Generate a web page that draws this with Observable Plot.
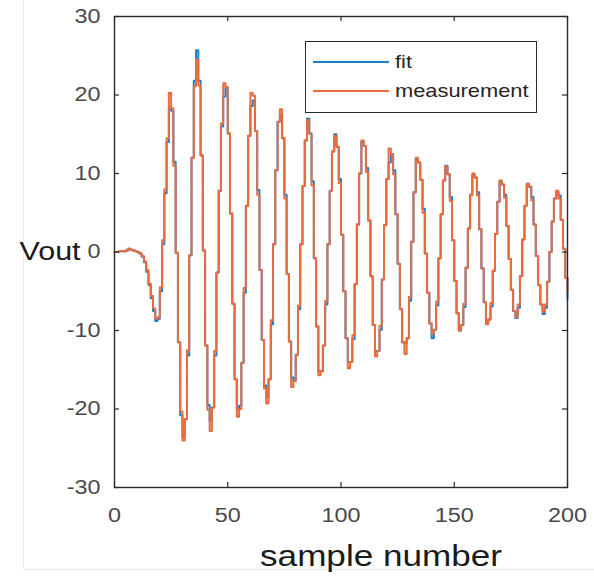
<!DOCTYPE html>
<html>
<head>
<meta charset="utf-8">
<script src="https://cdn.jsdelivr.net/npm/d3@7"></script>
<script src="https://cdn.jsdelivr.net/npm/@observablehq/plot@0.6"></script>
<style>
  html, body { margin: 0; padding: 0; background: #fff; }
  #wrap { position: relative; width: 594px; height: 580px; overflow: hidden; font-family: 'Liberation Sans', Arial, sans-serif; }
  #edge { position: absolute; left: 23px; top: 0; width: 580px; height: 569px; border-left: 1px solid #ececec; border-bottom: 1px solid #ececec; }
  #legend { position: absolute; left: 305px; top: 41px; width: 230px; height: 70px; border: 1.5px solid #2a2a2a; background: #fff; }
  .lg-line { position: absolute; left: 7px; width: 76px; height: 2px; }
  .lg-text { position: absolute; left: 89px; font-size: 19px; line-height: 22px; color: #262626; transform: scaleX(1.15); transform-origin: left center; white-space: nowrap; }
</style>
</head>
<body>
<div id="wrap"><div id="edge"></div></div>
<script>
// ---- data ----
const xTicks = [0, 50, 100, 150, 200];
const yTicks = [-30, -20, -10, 0, 10, 20, 30];
const seriesNames = ["fit", "measurement"];
const seriesColors = ["#1f7fcb", "#ea6c3e"];
const xLabel = "sample number";
const yLabel = "Vout";

// measured Vout, one value per sample 0..200
const measurement = [
  0.0, 0.0, 0.1, 0.1, 0.1, 0.2, 0.4, 0.3, 0.2, 0.1,
  0.0, -0.2, -0.5, -1.2, -2.3, -4.0, -5.6, -7.2, -8.5, -8.3,
  -4.5, 1.5, 8.0, 14.5, 20.3, 18.3, 11.0, -0.1, -11.5, -20.3,
  -24.0, -21.3, -12.5, -0.4, 12.0, 21.1, 24.5, 21.2, 12.3, 0.2,
  -11.9, -20.1, -22.8, -19.8, -12.6, -2.6, 7.8, 16.4, 21.5, 21.0,
  15.1, 4.9, -6.6, -16.2, -21.0, -20.0, -14.1, -4.6, 5.9, 14.8,
  20.3, 19.9, 15.4, 7.3, -2.3, -11.2, -17.4, -19.3, -16.2, -8.7,
  1.0, 10.4, 16.6, 18.2, 14.5, 6.8, -2.8, -11.4, -17.2, -16.4,
  -13.1, -6.8, 1.0, 8.4, 14.2, 16.8, 15.1, 8.5, -0.8, -9.5,
  -15.7, -15.2, -11.9, -6.2, 1.0, 7.8, 12.8, 14.8, 13.4, 8.8,
  2.2, -5.0, -11.0, -14.8, -14.0, -10.6, -4.1, 3.5, 10.0, 14.2,
  13.5, 10.2, 4.0, -3.1, -9.3, -13.3, -12.6, -9.4, -3.5, 3.4,
  9.3, 13.2, 12.5, 9.9, 4.8, -1.5, -7.3, -11.5, -13.0, -11.0,
  -5.7, 1.3, 7.6, 12.0, 11.4, 9.2, 5.0, -0.2, -5.2, -9.1,
  -10.4, -9.9, -6.3, -0.8, 4.8, 9.1, 10.9, 9.9, 6.5, 1.5,
  -3.7, -7.8, -10.0, -9.3, -6.6, -2.0, 3.0, 7.3, 10.0, 9.5,
  7.2, 2.9, -2.1, -6.4, -9.2, -8.6, -6.5, -2.4, 2.3, 6.4,
  9.1, 8.6, 6.9, 3.3, -0.9, -4.8, -7.5, -8.3, -6.7, -3.1,
  1.6, 5.9, 8.7, 8.3, 6.6, 3.5, -0.5, -4.2, -6.7, -7.6,
  -6.7, -3.8, 0.0, 3.9, 6.8, 7.8, 6.8, 4.1, 0.4, -3.3,
  -5.0
];

// model fit, one value per sample 0..200
const fit = [
  0.0, 0.0, 0.1, 0.1, 0.1, 0.2, 0.4, 0.3, 0.2, 0.1,
  0.0, -0.2, -0.6, -1.3, -2.5, -4.2, -5.9, -7.5, -8.8, -8.5,
  -5.0, 1.0, 7.5, 14.0, 18.3, 18.0, 11.5, -0.1, -11.5, -20.8,
  -23.6, -21.3, -13.2, -0.4, 12.0, 21.8, 25.7, 21.8, 12.3, 0.2,
  -11.9, -19.5, -21.5, -19.8, -13.2, -2.6, 7.8, 16.0, 19.8, 21.0,
  15.1, 4.9, -6.6, -16.2, -20.0, -19.6, -14.1, -5.2, 5.9, 14.8,
  18.6, 19.3, 15.4, 7.9, -2.3, -11.2, -17.0, -18.5, -16.2, -9.2,
  1.0, 10.4, 16.6, 17.4, 14.5, 7.3, -2.8, -11.4, -16.0, -16.4,
  -13.1, -7.3, 1.0, 8.4, 14.2, 17.0, 15.1, 9.0, -0.8, -9.5,
  -15.2, -15.2, -11.9, -6.7, 1.0, 7.8, 12.8, 15.0, 13.4, 9.3,
  2.2, -5.0, -11.0, -14.0, -14.0, -11.1, -4.1, 3.5, 10.0, 14.0,
  13.5, 10.7, 4.0, -3.1, -9.3, -12.6, -12.6, -9.9, -3.5, 3.4,
  9.3, 11.4, 12.5, 10.4, 4.8, -1.5, -7.3, -11.5, -11.6, -11.0,
  -6.2, 1.3, 7.6, 11.8, 11.4, 9.2, 5.5, -0.2, -5.2, -9.1,
  -11.0, -9.9, -6.8, -0.8, 4.8, 9.1, 11.0, 9.9, 7.0, 1.5,
  -3.7, -7.8, -10.0, -9.3, -7.0, -2.0, 3.0, 7.3, 9.8, 9.5,
  7.6, 2.9, -2.1, -6.4, -9.0, -8.6, -6.9, -2.4, 2.3, 6.4,
  9.0, 8.6, 7.3, 3.3, -0.9, -4.8, -7.5, -8.4, -7.1, -3.1,
  1.6, 5.9, 8.7, 8.3, 7.0, 3.5, -0.5, -4.2, -6.7, -7.9,
  -7.1, -3.8, 0.0, 3.9, 6.8, 7.6, 7.2, 4.1, 0.4, -3.3,
  -6.0
];

// ---- build ----
const W = 594, H = 580;
const mL = 114, mR = 27, mT = 16, mB = 93;
const innerW = W - mL - mR, innerH = H - mT - mB;
const tickLen = 5;
const axisColor = "#2a2a2a";
const tickTextColor = "#4a4a4a";
const plainNumber = d => String(d);

const fitRows = fit.map((v, i) => ({sample: i, value: v}));
const measRows = measurement.map((v, i) => ({sample: i, value: v}));

const chart = Plot.plot({
  width: W, height: H,
  marginLeft: mL, marginRight: mR, marginTop: mT, marginBottom: mB,
  x: {domain: [xTicks[0], xTicks[xTicks.length - 1]]},
  y: {domain: [yTicks[0], yTicks[yTicks.length - 1]]},
  style: {fontFamily: "'Liberation Sans', Arial, sans-serif", background: "transparent", overflow: "visible"},
  marks: [
    Plot.line(fitRows, {x: "sample", y: "value", curve: "step-after", stroke: seriesColors[0], strokeWidth: 2}),
    Plot.line(measRows, {x: "sample", y: "value", curve: "step-after", stroke: seriesColors[1], strokeWidth: 2}),
    // inward ticks (bottom, top, left, right)
    Plot.ruleX(xTicks, {stroke: axisColor, strokeWidth: 1.2, insetTop: innerH - tickLen}),
    Plot.ruleX(xTicks, {stroke: axisColor, strokeWidth: 1.2, insetBottom: innerH - tickLen}),
    Plot.ruleY(yTicks, {stroke: axisColor, strokeWidth: 1.2, insetRight: innerW - tickLen}),
    Plot.ruleY(yTicks, {stroke: axisColor, strokeWidth: 1.2, insetLeft: innerW - tickLen}),
    Plot.frame({stroke: axisColor, strokeWidth: 1.4}),
    Plot.axisX({ticks: xTicks, tickFormat: plainNumber, tickSize: 0, tickPadding: 20, fontSize: 20, fill: tickTextColor, label: null}),
    Plot.axisY({ticks: yTicks, tickFormat: plainNumber, tickSize: 0, tickPadding: 14, fontSize: 20, fill: tickTextColor, label: null}),
    Plot.text([{text: yLabel, at: 0}], {y: "at", text: "text", frameAnchor: "left", dx: -34, textAnchor: "end", fontSize: 26, fill: "#1a1a1a"}),
    Plot.text([xLabel], {frameAnchor: "bottom", dx: 40, dy: 78, fontSize: 30, fill: "#1a1a1a"})
  ]
});
chart.style.position = "absolute";
chart.style.left = "0px";
chart.style.top = "0px";
const wrap = document.getElementById("wrap");
wrap.appendChild(chart);

// widen glyphs slightly, as in the reference rendering
chart.querySelectorAll("text").forEach(t => {
  const len = t.getComputedTextLength();
  if (len > 0) {
    t.setAttribute("textLength", (len * 1.17).toFixed(1));
    t.setAttribute("lengthAdjust", "spacingAndGlyphs");
  }
});

// legend
const legend = document.createElement("div");
legend.id = "legend";
seriesNames.forEach((name, i) => {
  const line = document.createElement("div");
  line.className = "lg-line";
  line.style.top = (19 + i * 29) + "px";
  line.style.background = seriesColors[i];
  const txt = document.createElement("div");
  txt.className = "lg-text";
  txt.style.top = (9 + i * 29) + "px";
  txt.textContent = name;
  legend.appendChild(line);
  legend.appendChild(txt);
});
wrap.appendChild(legend);
</script>
</body>
</html>
